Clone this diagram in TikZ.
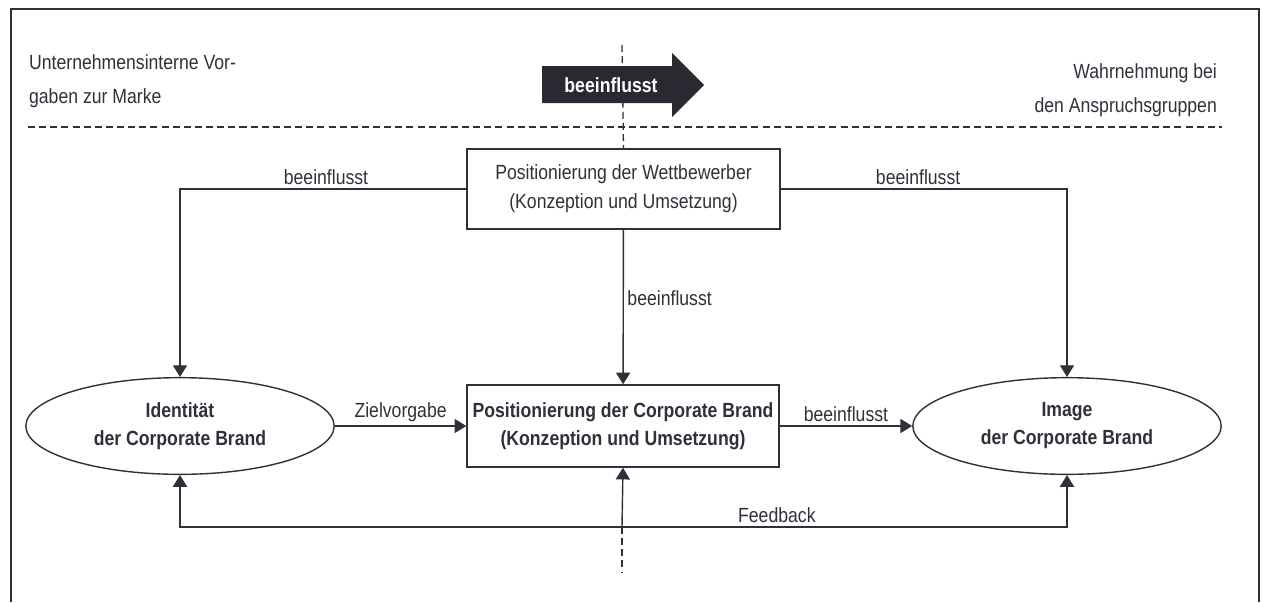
\documentclass[tikz,border=0pt]{standalone}
\usepackage{fontspec}
\setmainfont[FakeStretch=0.86]{Liberation Sans}
\usetikzlibrary{arrows.meta,shapes.geometric}
\definecolor{ink}{RGB}{48,48,58}
\tikzset{
  txt/.style={text=ink,font=\fontsize{17.5}{25}\selectfont},
  head/.style={text=ink,font=\fontsize{17.5}{28.5}\selectfont},
  box/.style={draw=ink,line width=1.2pt,align=center,inner sep=0pt,txt},
  brand/.style={ellipse,draw=ink,line width=1.2pt,align=center,inner sep=0pt,
    minimum width=9.25cm,minimum height=2.9cm,text=ink,
    font=\fontsize{17.5}{24}\selectfont\bfseries},
  link/.style={draw=ink,line width=1.2pt,-{Triangle[length=10pt,width=12pt]}},
  lbl/.style={txt,inner sep=3pt},
  divider/.style={draw=ink,line width=1.1pt,dash pattern=on 6pt off 3.5pt},
}
\begin{document}
\begin{tikzpicture}[x=0.03cm,y=-0.03cm]
\useasboundingbox (0,0) rectangle (1262,602);
% frame
\draw[ink,line width=2pt] (11,602) -- (11,9) -- (1259,9) -- (1259,602);

% header
\node[head,anchor=west,align=left] (intern) at (25,81) {Unternehmensinterne Vor-\\gaben zur Marke};
\node[head,anchor=east,align=right] (extern) at (1221,90) {Wahrnehmung bei\\den Anspruchsgruppen};
\draw[divider] (28,127) -- (1222,127);

% boxes
\node[box,minimum width=9.39cm,minimum height=2.4cm] (wett) at (623.5,189)
  {Positionierung der Wettbewerber\\(Konzeption und Umsetzung)};
\node[box,font=\fontsize{17.5}{24}\selectfont\bfseries,minimum width=9.36cm,minimum height=2.46cm] (corp) at (623,426)
  {Positionierung der Corporate Brand\\(Konzeption und Umsetzung)};
\node[brand] (ident) at (180,426) {Identität\\der Corporate Brand};
\node[brand] (image) at (1067,426) {Image\\der Corporate Brand};

% big arrow
\draw[divider] (622,45) -- (wett.north);
\fill[ink!85!black] (542,66) -- (672,66) -- (672,53) -- (704,85) -- (672,117) -- (672,103) -- (542,103) -- cycle;
\node[text=white,font=\fontsize{17.5}{24}\selectfont\bfseries] (flow) at (611,85) {beeinflusst};

% connectors
\draw[link] (wett.west) -| node[lbl,above,pos=0.245] {beeinflusst} (ident.north);
\draw[link] (wett.east) -| node[lbl,above,pos=0.24] {beeinflusst} (image.north);
\draw[link] (wett) -- node[lbl,right,pos=0.44] {beeinflusst} (corp);
\draw[link] (ident) -- node[lbl,above] {Zielvorgabe} (corp);
\draw[link] (corp) -- node[lbl,above] {beeinflusst} (image);

% feedback
\coordinate (fb) at (622,527);
\draw[link] (fb) -| (ident.south);
\draw[link] (fb) -| node[lbl,above,pos=0.174] {Feedback} (image.south);
\draw[link] (fb) -- (corp.south);
\draw[divider] (fb) -- ++(0,46);
\end{tikzpicture}
\end{document}
